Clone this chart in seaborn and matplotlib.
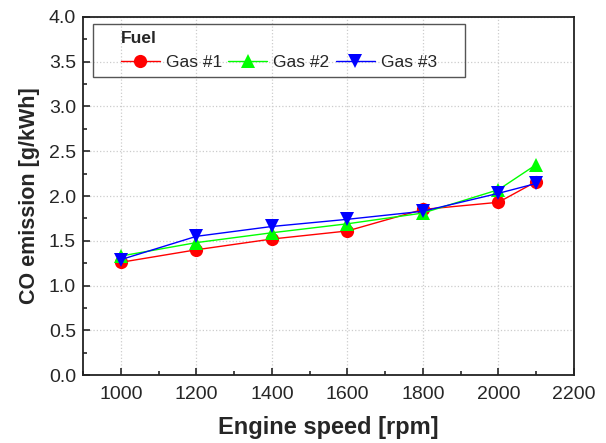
import pandas as pd
import numpy as np
import matplotlib.pyplot as plt
import seaborn as sns
from matplotlib.ticker import MultipleLocator
from matplotlib.patches import Rectangle

# data
speed = [1000, 1200, 1400, 1600, 1800, 2000, 2100]
gas1 = [1.26, 1.40, 1.52, 1.61, 1.85, 1.93, 2.16]
gas2 = [1.33, 1.48, 1.59, 1.69, 1.81, 2.07, 2.35]
gas3 = [1.29, 1.55, 1.66, 1.74, 1.83, 2.03, 2.14]
fuels = ["Gas #1", "Gas #2", "Gas #3"]

df = pd.DataFrame({
    "speed": speed * 3,
    "co": gas1 + gas2 + gas3,
    "fuel": np.repeat(fuels, len(speed)),
})

sns.set_style("ticks")
plt.rcParams['font.family'] = ['Liberation Sans', 'DejaVu Sans']

fig, ax = plt.subplots(figsize=(6.06, 4.43), dpi=100)
sns.lineplot(data=df, x="speed", y="co", hue="fuel", style="fuel",
             palette=["#ff0000", "#00ff00", "#0000ff"],
             markers=["o", "^", "v"], dashes=False, markersize=9.5,
             markeredgewidth=0, linewidth=1, ax=ax)

ax.set_xlim(900, 2200)
ax.set_ylim(0, 4.0)
ax.xaxis.set_major_locator(MultipleLocator(200))
ax.xaxis.set_minor_locator(MultipleLocator(100))
ax.yaxis.set_minor_locator(MultipleLocator(0.25))
ax.set_yticks(np.arange(0, 4.01, 0.5))
ax.set_yticklabels([f"{v:.1f}" for v in np.arange(0, 4.01, 0.5)])
ax.tick_params(which="both", direction="in", labelsize=14, length=5, width=1.2)
ax.tick_params(which="minor", length=3)
ax.tick_params(axis="x", which="major", pad=8)
ax.tick_params(axis="y", which="major", pad=5)
ax.grid(True, which="major", linestyle=":", color="#cccccc", linewidth=0.9)
for s in ax.spines.values():
    s.set_linewidth(1.3)
    s.set_color("#222222")

ax.set_xlabel("Engine speed [rpm]", fontsize=17, fontweight="bold", labelpad=9)
ax.set_ylabel("CO emission [g/kWh]", fontsize=15.5, fontweight="bold", labelpad=6)

handles, labels = ax.get_legend_handles_labels()
leg = ax.legend(handles, labels, title="Fuel", ncol=3, loc="upper left",
                bbox_to_anchor=(0.063, 0.980), fontsize=12.5, frameon=False,
                handlelength=2.25, columnspacing=0.35, handletextpad=0.35,
                borderpad=0.4, labelspacing=0.5, borderaxespad=0)
leg.get_title().set_fontweight("bold")
leg.get_title().set_fontsize(12.5)
leg._legend_box.align = "left"

fig.subplots_adjust(left=0.137, right=0.947, top=0.962, bottom=0.153)

# legend frame with wider side padding, as in the reference
fig.canvas.draw()
bb = leg.get_window_extent().transformed(ax.transAxes.inverted())
padx = 21 / ax.bbox.width
ax.add_patch(Rectangle((bb.x0 - padx, bb.y0), bb.width + 2 * padx, bb.height,
                       transform=ax.transAxes, fill=False, edgecolor="#555555",
                       linewidth=1.0, zorder=5))

fig.savefig("out.png", dpi=100)
